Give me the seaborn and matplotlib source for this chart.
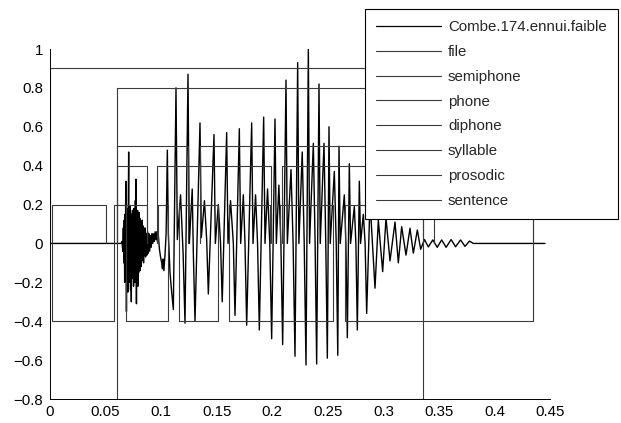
import numpy as np
import pandas as pd
import matplotlib
matplotlib.use("Agg")
import matplotlib.pyplot as plt
from matplotlib.lines import Line2D
import seaborn as sns

# ---------------- waveform key points ----------------
silence_t = [0.0, 0.0640]
silence_v = [0.0, 0.0]

burst_t = [0.0648, 0.0655, 0.0660, 0.0664, 0.0668, 0.0672, 0.0675, 0.0678, 0.0681, 0.0684,
           0.0688, 0.0691, 0.0694, 0.0698, 0.0701, 0.0704, 0.0708, 0.0712, 0.0715, 0.0718,
           0.0722, 0.0725, 0.0728, 0.0732, 0.0735, 0.0738, 0.0742, 0.0745, 0.0748, 0.0752,
           0.0755, 0.0758, 0.0762, 0.0765, 0.0768, 0.0771, 0.0774, 0.0778, 0.0781, 0.0784,
           0.0788, 0.0791, 0.0794, 0.0798, 0.0801, 0.0804, 0.0808, 0.0811, 0.0814, 0.0818,
           0.0822, 0.0826, 0.0830, 0.0834, 0.0838, 0.0842, 0.0846, 0.0850, 0.0855, 0.0860,
           0.0866, 0.0872, 0.0878, 0.0884, 0.0890, 0.0897, 0.0904, 0.0911, 0.0918, 0.0925,
           0.0932, 0.0939, 0.0946, 0.0953, 0.0960, 0.0967, 0.0975, 0.0985, 0.0995, 0.1005,
           0.1012, 0.1018, 0.1025, 0.1035, 0.1045, 0.1056, 0.1065, 0.1080, 0.1095]
burst_v = [0.01, -0.04, 0.08, -0.10, 0.12, -0.20, 0.15, -0.12, 0.22, 0.32,
           -0.35, 0.10, -0.18, 0.18, -0.25, 0.14, 0.47, -0.12, 0.16, -0.20,
           0.19, -0.24, 0.12, -0.30, 0.15, -0.10, 0.17, -0.18, 0.12, -0.22,
           0.18, -0.14, 0.16, -0.20, 0.22, 0.10, 0.33, -0.31, 0.14, -0.16,
           0.17, -0.22, 0.13, -0.15, 0.16, -0.10, 0.13, -0.14, 0.10, -0.12,
           0.11, -0.09, 0.12, -0.08, 0.09, -0.10, 0.07, -0.06, 0.08, -0.07,
           0.05, -0.06, 0.06, -0.05, 0.05, -0.04, 0.04, -0.02, 0.05, 0.00,
           0.05, 0.01, 0.06, 0.02, 0.06, 0.01, 0.04, -0.03, -0.07, -0.10,
           -0.13, -0.08, -0.14, -0.06, 0.05, 0.48, 0.05, -0.15, -0.25]

voiced_t = [0.1110, 0.1134, 0.1146, 0.1175, 0.1198,
            0.1215, 0.1242, 0.1254, 0.1280, 0.1290,
            0.1305, 0.1350, 0.1362, 0.1390, 0.1410,
            0.1425, 0.1476, 0.1488, 0.1515, 0.1535,
            0.1550, 0.1590, 0.1602, 0.1625, 0.1650,
            0.1665, 0.1704, 0.1716, 0.1740, 0.1755,
            0.1770, 0.1815, 0.1827, 0.1850, 0.1868,
            0.1884, 0.1923, 0.1935, 0.1958, 0.1978,
            0.1995, 0.2025, 0.2037, 0.2060, 0.2078,
            0.2094, 0.2124, 0.2136, 0.2169, 0.2188,
            0.2205, 0.2229, 0.2240, 0.2270, 0.2288,
            0.2304, 0.2325, 0.2336, 0.2370, 0.2386,
            0.2400, 0.2421, 0.2432, 0.2466, 0.2482,
            0.2496, 0.2511, 0.2522, 0.2559, 0.2576,
            0.2590, 0.2601, 0.2612, 0.2649, 0.2663,
            0.2676, 0.2694, 0.2705, 0.2739, 0.2753,
            0.2766, 0.2784, 0.2795, 0.2820, 0.2836]
voiced_v = [-0.34, 0.80, 0.02, 0.25, -0.05,
            -0.41, 0.87, 0.00, 0.28, -0.05,
            -0.40, 0.62, 0.03, 0.22, 0.02,
            -0.26, 0.56, 0.00, 0.20, 0.00,
            -0.30, 0.57, 0.00, 0.22, 0.00,
            -0.37, 0.59, 0.00, 0.25, 0.00,
            -0.42, 0.62, 0.00, 0.25, 0.00,
            -0.445, 0.65, 0.00, 0.28, 0.00,
            -0.49, 0.64, 0.00, 0.30, 0.00,
            -0.52, 0.84, 0.00, 0.38, 0.00,
            -0.58, 0.93, 0.00, 0.47, 0.00,
            -0.625, 1.00, 0.00, 0.515, 0.00,
            -0.62, 0.82, 0.00, 0.515, 0.00,
            -0.59, 0.60, 0.00, 0.37, 0.00,
            -0.575, 0.50, 0.00, 0.25, 0.00,
            -0.485, 0.41, 0.00, 0.19, 0.00,
            -0.445, 0.32, 0.00, 0.15, 0.00]

decay_t = [0.2850, 0.2880, 0.2925, 0.2955, 0.2994, 0.3024, 0.3060, 0.3105, 0.3135, 0.3165,
           0.3204, 0.3240, 0.3270, 0.3306, 0.3336]
decay_v = [-0.36, 0.22, -0.23, 0.12, -0.145, 0.13, -0.09, 0.11, -0.10, 0.086,
           -0.06, 0.078, -0.05, 0.069, -0.03]

tail_t = [0.3370, 0.3405, 0.3445, 0.3485, 0.3525, 0.3565, 0.3610, 0.3650, 0.3695, 0.3735,
          0.3775, 0.3810, 0.4455]
tail_v = [0.02, -0.018, 0.018, -0.02, 0.018, -0.02, 0.02, -0.017, 0.018, -0.015,
          0.012, 0.0, 0.0]

wave_label = "Combe.174.ennui.faible"

# ---------------- segmentation tiers ----------------
tier_names = ["file", "semiphone", "phone", "diphone", "syllable", "prosodic", "sentence"]
tier_levels = [0.9, 0.2, -0.4, 0.4, 0.5, -0.8, 0.8]
file_starts = [0.0]
file_ends = [0.435]
semiphone_starts = [0.002, 0.058, 0.068, 0.097, 0.1158, 0.161, 0.207, 0.2655]
semiphone_ends = [0.050, 0.068, 0.087, 0.106, 0.1515, 0.198, 0.255, 0.435]
phone_starts = [0.002, 0.068, 0.1158, 0.161, 0.2655]
phone_ends = [0.058, 0.106, 0.1515, 0.255, 0.435]
diphone_starts = [0.060, 0.0966, 0.2088]
diphone_ends = [0.087, 0.1986, 0.346]
syllable_starts = [0.060, 0.135]
syllable_ends = [0.124, 0.336]
prosodic_starts = [0.060]
prosodic_ends = [0.336]
sentence_starts = [0.060]
sentence_ends = [0.336]

tier_segments = {
    "file": (file_starts, file_ends),
    "semiphone": (semiphone_starts, semiphone_ends),
    "phone": (phone_starts, phone_ends),
    "diphone": (diphone_starts, diphone_ends),
    "syllable": (syllable_starts, syllable_ends),
    "prosodic": (prosodic_starts, prosodic_ends),
    "sentence": (sentence_starts, sentence_ends),
}

xticks = [0, 0.05, 0.1, 0.15, 0.2, 0.25, 0.3, 0.35, 0.4, 0.45]
xtick_labels = ["0", "0.05", "0.1", "0.15", "0.2", "0.25", "0.3", "0.35", "0.4", "0.45"]
yticks = [-0.8, -0.6, -0.4, -0.2, 0, 0.2, 0.4, 0.6, 0.8, 1]
ytick_labels = ["\u22120.8", "\u22120.6", "\u22120.4", "\u22120.2", "0", "0.2", "0.4", "0.6", "0.8", "1"]

# ---------------- plotting ----------------
sns.set_theme(style="white")
plt.rcParams["font.family"] = ["Liberation Sans", "DejaVu Sans"]

fig = plt.figure(figsize=(6.21, 4.23), dpi=100)
ax = fig.add_axes([50 / 621, 24 / 423, 500 / 621, 350 / 423])

wave = pd.DataFrame({
    "t": silence_t + burst_t + voiced_t + decay_t + tail_t,
    "v": silence_v + burst_v + voiced_v + decay_v + tail_v,
})
sns.lineplot(data=wave, x="t", y="v", sort=False, estimator=None, color="black",
             linewidth=1.0, ax=ax, legend=False)

tier_color = "#3a3a3a"
for name, level in zip(tier_names, tier_levels):
    starts, ends = tier_segments[name]
    rows = []
    for k, (a, b) in enumerate(zip(starts, ends)):
        rows += [(a, 0.0, k), (a, level, k), (b, level, k), (b, 0.0, k)]
    df = pd.DataFrame(rows, columns=["t", "v", "seg"])
    sns.lineplot(data=df, x="t", y="v", units="seg", sort=False, estimator=None,
                 color=tier_color, linewidth=0.8, ax=ax, legend=False)

ax.set_xlim(0, 0.45)
ax.set_ylim(-0.8, 1)
ax.set_xticks(xticks)
ax.set_xticklabels(xtick_labels)
ax.set_yticks(yticks)
ax.set_yticklabels(ytick_labels)
ax.set_xlabel("")
ax.set_ylabel("")
for s in ["top", "right"]:
    ax.spines[s].set_visible(False)
for s in ["left", "bottom"]:
    ax.spines[s].set_color("black")
    ax.spines[s].set_linewidth(0.7)
ax.tick_params(axis="both", direction="in", length=4, width=0.7, color="black",
               labelsize=10.8, labelcolor="black")
ax.tick_params(axis="x", pad=4)
ax.tick_params(axis="y", pad=5)
ax.set_facecolor("white")

handles = [Line2D([], [], color="black", linewidth=0.9)] + \
          [Line2D([], [], color=tier_color, linewidth=0.8) for _ in tier_names]
labels = [wave_label] + tier_names
leg = ax.legend(handles, labels, loc="upper right",
                bbox_to_anchor=(618 / 621, 1 - 9 / 423), bbox_transform=fig.transFigure,
                frameon=True, fancybox=False, shadow=False, edgecolor="black",
                framealpha=1, borderaxespad=0, handlelength=4.3, handletextpad=0.5,
                labelspacing=0.72, borderpad=0.75, fontsize=10.8)
leg.get_frame().set_linewidth(0.8)

fig.savefig("out.png", dpi=100)
